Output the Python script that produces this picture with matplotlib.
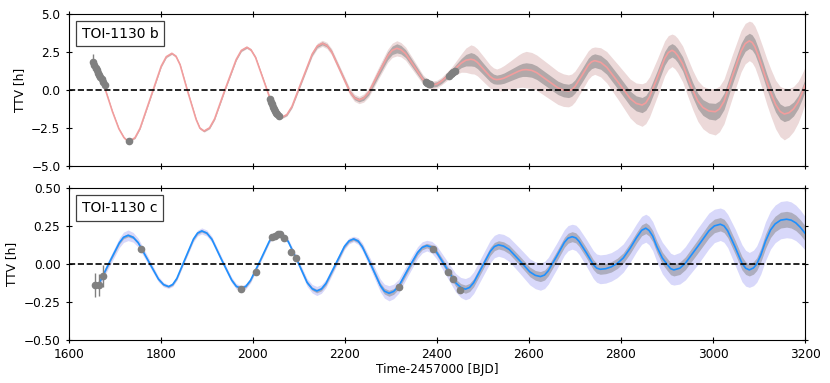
import matplotlib
matplotlib.use('Agg')
import matplotlib.pyplot as plt
import numpy as np

# model TTV for planet b (days, hours)
b_time = [1655, 1668, 1681, 1695, 1709, 1720, 1726, 1732,
          1744, 1755, 1778, 1801, 1812, 1824,
          1833, 1842, 1859, 1877, 1885, 1894,
          1906, 1917, 1940, 1964, 1975, 1987,
          1996, 2006, 2025, 2044, 2053, 2063,
          2074, 2085, 2107, 2129, 2140, 2151,
          2161, 2171, 2191, 2211, 2221, 2231,
          2241, 2252, 2272, 2293, 2303, 2313,
          2322, 2332, 2351, 2370, 2380, 2389,
          2400, 2410, 2432, 2453, 2463, 2474,
          2481, 2488, 2502, 2516, 2523, 2530,
          2538, 2546, 2562, 2578, 2586, 2594,
          2606, 2617, 2640, 2663, 2675, 2686,
          2693, 2700, 2715, 2729, 2736, 2743,
          2756, 2769, 2795, 2820, 2833, 2846,
          2854, 2862, 2879, 2895, 2903, 2911,
          2917, 2923, 2934, 2945, 2956, 2967, 2978, 2991, 3005,
          3014, 3024, 3042, 3061, 3070, 3079,
          3085, 3091, 3098, 3108, 3117, 3126, 3136, 3146, 3155,
          3165, 3175, 3185, 3193, 3200]
b_ttv = [1.84, 1.02, -0.11, -1.42, -2.55, -3.13, -3.30, -3.36,
         -3.14, -2.52, -0.48, 1.57, 2.19, 2.41,
         2.22, 1.66, -0.15, -1.95, -2.51, -2.70,
         -2.49, -1.90, 0.06, 2.01, 2.60, 2.81,
         2.64, 2.14, 0.51, -1.13, -1.63, -1.80,
         -1.62, -1.09, 0.64, 2.36, 2.89, 3.07,
         2.93, 2.53, 1.21, -0.12, -0.52, -0.66,
         -0.53, -0.16, 1.04, 2.24, 2.61, 2.74,
         2.65, 2.39, 1.54, 0.68, 0.42, 0.33,
         0.39, 0.58, 1.18, 1.77, 1.96, 2.02,
         1.97, 1.82, 1.35, 0.88, 0.73, 0.68,
         0.71, 0.78, 1.01, 1.24, 1.32, 1.34,
         1.29, 1.14, 0.64, 0.14, -0.01, -0.06,
         0.02, 0.23, 0.94, 1.64, 1.85, 1.93,
         1.82, 1.50, 0.47, -0.56, -0.88, -0.99,
         -0.85, -0.46, 0.81, 2.08, 2.47, 2.61,
         2.50, 2.28, 1.72, 0.85, 0.00, -0.72, -1.15, -1.38, -1.43,
         -1.25, -0.75, 0.90, 2.55, 3.05, 3.23,
         3.13, 2.85, 2.30, 1.40, 0.55, -0.20, -0.95, -1.42, -1.58,
         -1.50, -1.25, -0.80, -0.25, 0.30]
# half widths of the two uncertainty bands (gray inner, pink outer)
b_inner = [0.03, 0.03, 0.03, 0.03, 0.03, 0.03, 0.03, 0.03,
           0.03, 0.03, 0.035, 0.04, 0.04, 0.04,
           0.04, 0.04, 0.04, 0.04, 0.04, 0.04,
           0.04, 0.04, 0.045, 0.05, 0.05, 0.05,
           0.05, 0.05, 0.05, 0.05, 0.05, 0.05,
           0.056, 0.062, 0.075, 0.088, 0.094, 0.10,
           0.10, 0.105, 0.11, 0.115, 0.118, 0.12,
           0.143, 0.165, 0.21, 0.255, 0.278, 0.30,
           0.28, 0.26, 0.225, 0.19, 0.17, 0.15,
           0.15, 0.15, 0.18, 0.30, 0.38, 0.44,
           0.42, 0.41, 0.37, 0.34, 0.32, 0.30,
           0.32, 0.34, 0.375, 0.41, 0.43, 0.45,
           0.45, 0.45, 0.445, 0.44, 0.44, 0.44,
           0.44, 0.44, 0.445, 0.45, 0.45, 0.45,
           0.456, 0.462, 0.475, 0.488, 0.494, 0.50,
           0.49, 0.485, 0.47, 0.455, 0.448, 0.44,
           0.447, 0.454, 0.467, 0.48, 0.493, 0.506, 0.518, 0.534, 0.55,
           0.544, 0.538, 0.525, 0.512, 0.506, 0.50,
           0.50, 0.50, 0.50, 0.50, 0.50, 0.50, 0.50, 0.50, 0.50,
           0.48, 0.46, 0.43, 0.42, 0.40]
b_outer = [0.07, 0.07, 0.07, 0.07, 0.07, 0.07, 0.07, 0.07,
           0.07, 0.07, 0.075, 0.08, 0.08, 0.08,
           0.08, 0.08, 0.08, 0.08, 0.08, 0.08,
           0.08, 0.08, 0.085, 0.09, 0.09, 0.09,
           0.09, 0.09, 0.09, 0.09, 0.09, 0.09,
           0.104, 0.118, 0.145, 0.173, 0.186, 0.20,
           0.205, 0.21, 0.22, 0.23, 0.235, 0.24,
           0.27, 0.30, 0.37, 0.435, 0.47, 0.50,
           0.47, 0.44, 0.375, 0.31, 0.28, 0.25,
           0.25, 0.25, 0.32, 0.60, 0.80, 0.95,
           0.92, 0.89, 0.83, 0.76, 0.73, 0.70,
           0.76, 0.83, 0.95, 1.08, 1.14, 1.20,
           1.18, 1.16, 1.13, 1.09, 1.07, 1.05,
           1.03, 1.01, 0.975, 0.94, 0.92, 0.90,
           0.96, 1.03, 1.15, 1.28, 1.34, 1.40,
           1.36, 1.32, 1.235, 1.15, 1.11, 1.07,
           1.10, 1.13, 1.18, 1.24, 1.29, 1.34, 1.40, 1.46, 1.53,
           1.50, 1.47, 1.415, 1.36, 1.33, 1.30,
           1.33, 1.36, 1.40, 1.45, 1.50, 1.55, 1.60, 1.65, 1.70,
           1.59, 1.48, 1.365, 1.28, 1.20]

# observed transits of b
b_obs_time = [1653, 1656, 1659, 1661, 1664, 1666, 1669, 1672, 1675, 1679, 1732,
              2038, 2040, 2042, 2044, 2046, 2049, 2051, 2053, 2056,
              2376, 2379, 2382, 2385, 2427, 2430, 2433, 2436, 2439]
b_obs_ttv = [1.85, 1.65, 1.45, 1.30, 1.15, 1.00, 0.85, 0.70, 0.55, 0.35, -3.36,
             -0.60, -0.80, -0.95, -1.10, -1.25, -1.40, -1.50, -1.60, -1.72,
             0.50, 0.45, 0.42, 0.38, 0.95, 1.05, 1.12, 1.20, 1.28]
b_obs_err = [0.55, 0.30, 0.15, 0.10, 0.10, 0.10, 0.10, 0.10, 0.10, 0.10, 0.08,
             0.08, 0.08, 0.08, 0.08, 0.08, 0.08, 0.08, 0.08, 0.08,
             0.08, 0.08, 0.08, 0.08, 0.08, 0.08, 0.08, 0.08, 0.08]

# model TTV for planet c
c_time = [1658, 1665, 1671, 1690, 1710, 1719, 1729,
          1740, 1751, 1773, 1795, 1806, 1817,
          1826, 1835, 1853, 1871, 1880, 1889,
          1900, 1911, 1932, 1954, 1964, 1975,
          1985, 1995, 2016, 2036, 2046, 2056,
          2066, 2077, 2098, 2118, 2129, 2139,
          2149, 2159, 2179, 2199, 2209, 2219,
          2229, 2238, 2258, 2277, 2286, 2296,
          2306, 2317, 2337, 2358, 2368, 2378,
          2389, 2399, 2420, 2441, 2452, 2462,
          2471, 2480, 2498, 2516, 2525, 2534,
          2545, 2557, 2580, 2602, 2614, 2625,
          2634, 2642, 2660, 2677, 2685, 2694,
          2702, 2709, 2725, 2740, 2747, 2755,
          2767, 2779, 2792, 2805, 2820, 2834, 2845, 2854,
          2861, 2869, 2878, 2890, 2900, 2908, 2915,
          2928, 2940, 2966, 2991, 3003, 3016,
          3024, 3032, 3048, 3063, 3071, 3079,
          3088, 3095, 3104, 3114, 3125, 3135, 3147, 3160,
          3170, 3180, 3190, 3200]
c_ttv = [-0.140, -0.132, -0.096, 0.022, 0.141, 0.177, 0.190,
         0.177, 0.141, 0.021, -0.099, -0.135, -0.148,
         -0.134, -0.094, 0.036, 0.165, 0.205, 0.219,
         0.205, 0.164, 0.030, -0.105, -0.146, -0.160,
         -0.146, -0.107, 0.023, 0.152, 0.191, 0.205,
         0.190, 0.149, 0.014, -0.121, -0.162, -0.177,
         -0.164, -0.127, -0.006, 0.116, 0.153, 0.166,
         0.152, 0.114, -0.013, -0.140, -0.178, -0.192,
         -0.180, -0.146, -0.035, 0.076, 0.110, 0.122,
         0.111, 0.080, -0.022, -0.123, -0.154, -0.165,
         -0.154, -0.122, -0.019, 0.084, 0.116, 0.127,
         0.119, 0.097, 0.023, -0.051, -0.074, -0.082,
         -0.072, -0.044, 0.050, 0.143, 0.171, 0.181,
         0.173, 0.150, 0.074, -0.003, -0.026, -0.034,
         -0.030, -0.018, 0.005, 0.040, 0.105, 0.175, 0.223, 0.237,
         0.222, 0.185, 0.115, 0.040, 0.000, -0.030, -0.038,
         -0.027, 0.006, 0.113, 0.219, 0.252, 0.263,
         0.252, 0.219, 0.113, 0.006, -0.027, -0.038,
         -0.025, 0.000, 0.060, 0.150, 0.225, 0.265, 0.290, 0.296,
         0.290, 0.272, 0.242, 0.204]
c_inner = [0.008, 0.008, 0.008, 0.009, 0.010, 0.010, 0.010,
           0.0095, 0.009, 0.008, 0.007, 0.0065, 0.006,
           0.006, 0.0065, 0.007, 0.0075, 0.008, 0.008,
           0.008, 0.008, 0.008, 0.008, 0.008, 0.008,
           0.008, 0.0075, 0.007, 0.0065, 0.006, 0.006,
           0.007, 0.0075, 0.009, 0.0105, 0.011, 0.012,
           0.012, 0.0115, 0.011, 0.0105, 0.010, 0.010,
           0.011, 0.0125, 0.015, 0.0175, 0.019, 0.020,
           0.019, 0.019, 0.0175, 0.016, 0.0155, 0.015,
           0.0165, 0.018, 0.021, 0.024, 0.0255, 0.027,
           0.027, 0.027, 0.027, 0.027, 0.027, 0.027,
           0.028, 0.0285, 0.030, 0.0315, 0.032, 0.033,
           0.033, 0.033, 0.033, 0.033, 0.033, 0.033,
           0.033, 0.033, 0.033, 0.033, 0.033, 0.033,
           0.033, 0.034, 0.034, 0.034, 0.035, 0.035, 0.036, 0.036,
           0.036, 0.037, 0.038, 0.039, 0.040, 0.040, 0.040,
           0.041, 0.042, 0.044, 0.046, 0.045, 0.044,
           0.044, 0.044, 0.045, 0.044, 0.041, 0.040,
           0.041, 0.042, 0.045, 0.048, 0.050, 0.051, 0.052, 0.052,
           0.052, 0.051, 0.050, 0.050]
c_outer = [0.020, 0.020, 0.022, 0.027, 0.032, 0.034, 0.035,
           0.032, 0.029, 0.0235, 0.018, 0.015, 0.012,
           0.013, 0.014, 0.016, 0.018, 0.019, 0.020,
           0.020, 0.0195, 0.019, 0.0185, 0.018, 0.018,
           0.017, 0.0165, 0.015, 0.0135, 0.013, 0.012,
           0.014, 0.0165, 0.021, 0.0255, 0.028, 0.030,
           0.0285, 0.027, 0.024, 0.021, 0.0195, 0.018,
           0.022, 0.026, 0.034, 0.042, 0.046, 0.050,
           0.048, 0.046, 0.0425, 0.039, 0.037, 0.035,
           0.039, 0.044, 0.0525, 0.061, 0.066, 0.070,
           0.071, 0.071, 0.0725, 0.074, 0.074, 0.075,
           0.077, 0.079, 0.0825, 0.086, 0.088, 0.090,
           0.089, 0.088, 0.086, 0.084, 0.083, 0.082,
           0.084, 0.085, 0.0885, 0.092, 0.093, 0.095,
           0.095, 0.094, 0.094, 0.093, 0.093, 0.092, 0.092, 0.092,
           0.094, 0.096, 0.100, 0.104, 0.104, 0.102, 0.100,
           0.104, 0.110, 0.120, 0.118, 0.110, 0.107,
           0.108, 0.110, 0.120, 0.122, 0.118, 0.115,
           0.117, 0.120, 0.125, 0.128, 0.126, 0.124, 0.123, 0.122,
           0.120, 0.117, 0.114, 0.110]

c_obs_time = [1658, 1666, 1674, 1757, 1975, 2007, 2041, 2048, 2055, 2060, 2067,
              2084, 2093, 2317, 2392, 2425, 2434, 2451]
c_obs_ttv = [-0.137, -0.137, -0.078, 0.100, -0.165, -0.054, 0.181, 0.188, 0.197,
             0.200, 0.171, 0.078, 0.043, -0.152, 0.100, -0.049, -0.098, -0.170]
c_obs_err = [0.08, 0.07, 0.07, 0.01, 0.01, 0.01, 0.008, 0.008, 0.008,
             0.008, 0.008, 0.008, 0.008, 0.01, 0.01, 0.01, 0.01, 0.01]

FS = 8.7

fig = plt.figure(figsize=(8.3, 3.83), dpi=100)
ax1 = fig.add_axes([0.0828, 0.5666, 0.8871, 0.3969])
ax2 = fig.add_axes([0.0828, 0.1123, 0.8871, 0.3961])


def panel(ax, t, v, inner, outer, obs_t, obs_v, obs_e, line_col, out_col, in_col, name):
    t = np.array(t)
    v = np.array(v)
    inner = np.array(inner)
    outer = np.array(outer)
    ax.fill_between(t, v - outer, v + outer, color=out_col, lw=0, zorder=1)
    ax.fill_between(t, v - inner, v + inner, color=in_col, lw=0, zorder=2)
    ax.plot(t, v, color=line_col, lw=1.2, zorder=3)
    ax.axhline(0, color='k', ls='--', lw=1.2, zorder=4)
    ax.errorbar(obs_t, obs_v, yerr=obs_e, fmt='o', ms=4.5, color='gray',
                ecolor='gray', elinewidth=1, capsize=0, zorder=5)
    ax.text(0.0177, 0.87, name, transform=ax.transAxes, fontsize=10,
            ha='left', va='center', zorder=6,
            bbox=dict(boxstyle='square,pad=0.4', facecolor='white',
                      edgecolor='0.25', linewidth=0.9))
    ax.set_xlim(1600, 3200)
    ax.set_xticks(np.arange(1600, 3201, 200))
    ax.tick_params(direction='inout', top=True, right=True, labelsize=FS, length=5)
    ax.set_ylabel('TTV [h]', fontsize=FS)


panel(ax1, b_time, b_ttv, b_inner, b_outer, b_obs_time, b_obs_ttv, b_obs_err,
      '#f29d9d', '#ecd9d9', '#b2a8a9', 'TOI-1130 b')
ax1.set_ylim(-5, 5)
ax1.set_yticks([-5.0, -2.5, 0.0, 2.5, 5.0])
ax1.set_yticklabels(['\u22125.0', '\u22122.5', '0.0', '2.5', '5.0'])
ax1.tick_params(labelbottom=False)

panel(ax2, c_time, c_ttv, c_inner, c_outer, c_obs_time, c_obs_ttv, c_obs_err,
      '#1e90ff', '#d8d8fa', '#adadbf', 'TOI-1130 c')
ax2.set_ylim(-0.5, 0.5)
ax2.set_yticks([-0.5, -0.25, 0.0, 0.25, 0.5])
ax2.set_yticklabels(['\u22120.50', '\u22120.25', '0.00', '0.25', '0.50'])
ax2.set_xlabel('Time-2457000 [BJD]', fontsize=FS, labelpad=1)

fig.savefig('out.png', dpi=100)
